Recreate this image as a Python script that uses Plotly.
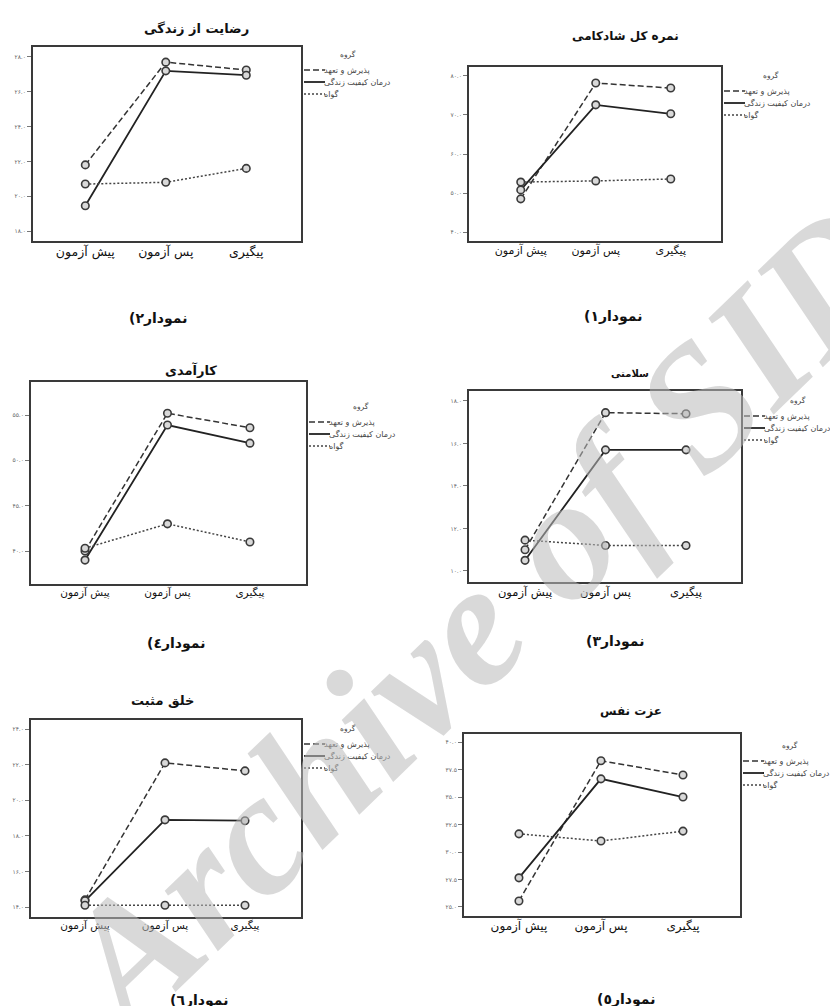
import plotly.graph_objects as go

W, H = 838, 1006

stages = ["پیش آزمون", "پس آزمون", "پیگیری"]
groups = ["پذیرش و تعهد", "درمان کیفیت زندگی", "گواه"]
legend_title = "گروه"

# ---- data ----
# Panel: رضایت از زندگی (نمودار۲)
life_title = "رضایت از زندگی"
life_caption = "نمودار۲)"
life_act = [21.8, 27.7, 27.25]
life_qol = [19.45, 27.2, 26.95]
life_ctrl = [20.7, 20.8, 21.6]
life_ticks = [18, 20, 22, 24, 26, 28]
life_ticktext = ["۱۸.۰", "۲۰.۰", "۲۲.۰", "۲۴.۰", "۲۶.۰", "۲۸.۰"]

# Panel: نمره کل شادکامی (نمودار۱)
happy_title = "نمره کل شادکامی"
happy_caption = "نمودار۱)"
happy_act = [48.5, 78.2, 76.9]
happy_qol = [50.8, 72.6, 70.3]
happy_ctrl = [52.8, 53.1, 53.6]
happy_ticks = [40, 50, 60, 70, 80]
happy_ticktext = ["۴۰.۰", "۵۰.۰", "۶۰.۰", "۷۰.۰", "۸۰.۰"]

# Panel: کارآمدی (نمودار٤)
eff_title = "کارآمدی"
eff_caption = "نمودار٤)"
eff_act = [40.0, 55.2, 53.6]
eff_qol = [39.0, 53.9, 51.9]
eff_ctrl = [40.3, 43.0, 41.0]
eff_ticks = [40, 45, 50, 55]
eff_ticktext = ["۴۰.۰", "۴۵.۰", "۵۰.۰", "۵۵.۰"]

# Panel: سلامتی (نمودار۳)
health_title = "سلامتی"
health_caption = "نمودار۳)"
health_act = [11.0, 17.45, 17.4]
health_qol = [10.5, 15.7, 15.7]
health_ctrl = [11.45, 11.2, 11.2]
health_ticks = [10, 12, 14, 16, 18]
health_ticktext = ["۱۰.۰", "۱۲.۰", "۱۴.۰", "۱۶.۰", "۱۸.۰"]

# Panel: خلق مثبت (نمودار٦)
mood_title = "خلق مثبت"
mood_caption = "نمودار٦)"
mood_act = [14.4, 22.1, 21.65]
mood_qol = [14.35, 18.9, 18.85]
mood_ctrl = [14.1, 14.1, 14.1]
mood_ticks = [14, 16, 18, 20, 22, 24]
mood_ticktext = ["۱۴.۰", "۱۶.۰", "۱۸.۰", "۲۰.۰", "۲۲.۰", "۲۴.۰"]

# Panel: عزت نفس (نمودار٥)
esteem_title = "عزت نفس"
esteem_caption = "نمودار٥)"
esteem_act = [25.55, 38.3, 37.0]
esteem_qol = [27.65, 36.65, 35.0]
esteem_ctrl = [31.65, 31.0, 31.9]
esteem_ticks = [25, 27.5, 30, 32.5, 35, 37.5, 40]
esteem_ticktext = ["۲۵.۰", "۲۷.۵", "۳۰.۰", "۳۲.۵", "۳۵.۰", "۳۷.۵", "۴۰.۰"]

watermark = "Archive of SID"

# ---- layout of panels (pixel boxes and styling) ----
panels = [
    dict(title=life_title, caption=life_caption, series=[life_act, life_qol, life_ctrl],
         ticks=life_ticks, ticktext=life_ticktext,
         box=(25, 39, 293, 233), xr=(-0.65, 2.68), yr=(17.43, 28.57),
         tpos=(188, 20), tsize=13, cpos=(150, 310), leg=(62, 340), xsize=12.5),
    dict(title=happy_title, caption=happy_caption, series=[happy_act, happy_qol, happy_ctrl],
         ticks=happy_ticks, ticktext=happy_ticktext,
         box=(461, 59, 713, 233), xr=(-0.69, 2.67), yr=(37.7, 82.3),
         tpos=(617, 28), tsize=12, cpos=(605, 308), leg=(83, 763), xsize=11),
    dict(title=eff_title, caption=eff_caption, series=[eff_act, eff_qol, eff_ctrl],
         ticks=eff_ticks, ticktext=eff_ticktext,
         box=(23, 374, 298, 576), xr=(-0.655, 2.68), yr=(36.36, 58.65),
         tpos=(183, 362), tsize=13, cpos=(168, 635), leg=(414, 353), xsize=10.5),
    dict(title=health_title, caption=health_caption, series=[health_act, health_qol, health_ctrl],
         ticks=health_ticks, ticktext=health_ticktext,
         box=(461, 383, 733, 574), xr=(-0.696, 2.683), yr=(9.48, 18.47),
         tpos=(622, 365), tsize=10, cpos=(607, 633), leg=(408, 790), xsize=11.5),
    dict(title=mood_title, caption=mood_caption, series=[mood_act, mood_qol, mood_ctrl],
         ticks=mood_ticks, ticktext=mood_ticktext,
         box=(23, 712, 293, 909), xr=(-0.675, 2.7), yr=(13.44, 24.51),
         tpos=(154, 692), tsize=13, cpos=(191, 992), leg=(736, 340), xsize=10.5),
    dict(title=esteem_title, caption=esteem_caption, series=[esteem_act, esteem_qol, esteem_ctrl],
         ticks=esteem_ticks, ticktext=esteem_ticktext,
         box=(456, 726, 732, 908), xr=(-0.67, 2.695), yr=(24.18, 40.73),
         tpos=(623, 703), tsize=12, cpos=(618, 991), leg=(753, 782), xsize=12),
]

dashes = ["6px,3px", "solid", "2px,2px"]
widths = [1.5, 1.8, 1.5]
colors = ["#333333", "#222222", "#444444"]
FONT = "DejaVu Sans"
RLE, PDF = "\u202b", "\u202c"


def px(x):
    return x / W


def py(y):
    return 1 - y / H


fig = go.Figure()
annotations = []
shapes = []
layout = {}

for i, p in enumerate(panels):
    n = "" if i == 0 else str(i + 1)
    xa, ya = "x" + n, "y" + n
    x0, y0, x1, y1 = p["box"]
    for s, vals in enumerate(p["series"]):
        fig.add_trace(go.Scatter(
            x=stages, y=vals, mode="lines", xaxis=xa, yaxis=ya, showlegend=False,
            line=dict(color=colors[s], width=widths[s], dash=dashes[s]),
            name=groups[s], hoverinfo="skip"))
    for s, vals in enumerate(p["series"]):
        fig.add_trace(go.Scatter(
            x=stages, y=vals, mode="markers", xaxis=xa, yaxis=ya, showlegend=False,
            marker=dict(symbol="circle", size=7.5, color="#d9d9d9",
                        line=dict(color="#3a3a3a", width=1.6)),
            name=groups[s]))
    layout["xaxis" + n] = dict(
        domain=[x0 / W, x1 / W], anchor=ya, type="category", range=list(p["xr"]),
        showline=True, mirror=True, linecolor="#3a3a3a", linewidth=1.6,
        ticks="", showgrid=False, zeroline=False, ticklabelstandoff=-2,
        tickfont=dict(family=FONT, size=p["xsize"], color="#111"), fixedrange=True)
    layout["yaxis" + n] = dict(
        domain=[1 - y1 / H, 1 - y0 / H], anchor=xa, range=list(p["yr"]),
        tickvals=p["ticks"], ticktext=p["ticktext"],
        showline=True, mirror=True, linecolor="#3a3a3a", linewidth=1.6,
        ticks="outside", ticklen=4, tickcolor="#777", tickwidth=1,
        showgrid=False, zeroline=False,
        tickfont=dict(family=FONT, size=6, color="#666"), fixedrange=True)
    annotations.append(dict(x=px(p["tpos"][0]), y=py(p["tpos"][1]), xref="paper", yref="paper",
                            text="<b>" + p["title"] + "</b>", showarrow=False,
                            font=dict(family=FONT, size=p["tsize"], color="#111"),
                            xanchor="center", yanchor="middle"))
    annotations.append(dict(x=px(p["cpos"][0]), y=py(p["cpos"][1]), xref="paper", yref="paper",
                            text="<b>" + RLE + p["caption"] + PDF + "</b>", showarrow=False,
                            font=dict(family=FONT, size=14, color="#111"),
                            xanchor="center", yanchor="middle"))
    ly, lt = p["leg"]
    annotations.append(dict(x=px(lt), y=py(ly - 16), xref="paper", yref="paper",
                            text=legend_title, showarrow=False,
                            font=dict(family=FONT, size=7.5, color="#444"),
                            xanchor="center", yanchor="middle"))
    for s in range(3):
        yy = ly + 12 * s
        shapes.append(dict(type="line", xref="paper", yref="paper",
                           x0=px(x1 + 3), x1=px(x1 + 24), y0=py(yy), y1=py(yy),
                           line=dict(color=colors[s], width=widths[s], dash=dashes[s])))
        annotations.append(dict(x=px(x1 + 21), y=py(yy), xref="paper", yref="paper",
                                text=groups[s], showarrow=False,
                                font=dict(family=FONT, size=8, color="#444"),
                                xanchor="left", yanchor="middle"))

annotations.append(dict(x=px(470), y=py(610), xref="paper", yref="paper",
                        text="<b><i>" + watermark + "</i></b>", showarrow=False,
                        textangle=-44,
                        font=dict(family="Liberation Serif", size=175,
                                  color="rgba(185,185,185,0.55)"),
                        xanchor="center", yanchor="middle"))

fig.update_layout(
    width=W, height=H, margin=dict(l=0, r=0, t=0, b=0),
    paper_bgcolor="white", plot_bgcolor="white",
    showlegend=False, annotations=annotations, shapes=shapes, **layout)

fig.write_html("out.html")
